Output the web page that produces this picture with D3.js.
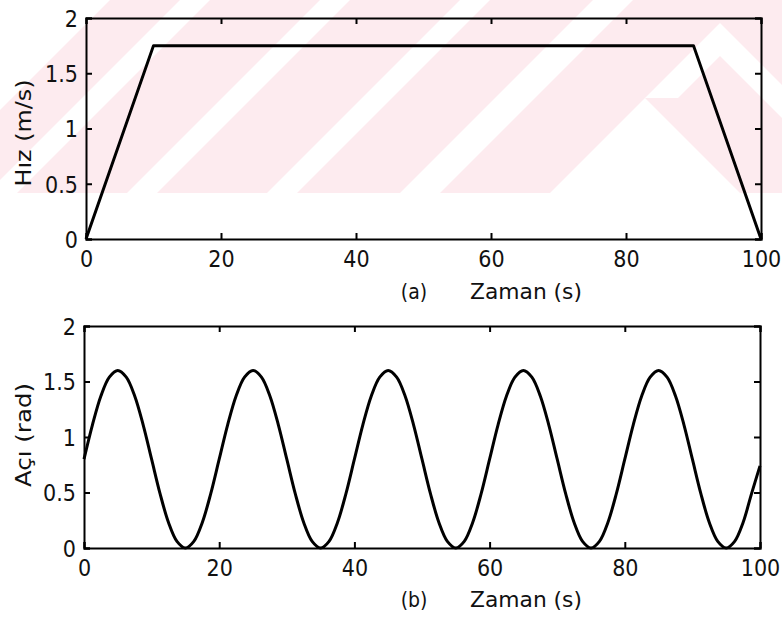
<!DOCTYPE html>
<html>
<head>
<meta charset="utf-8">
<script src="https://cdn.jsdelivr.net/npm/d3@7"></script>
<style>
  html, body { margin: 0; padding: 0; background: #fff; }
  svg { display: block; }
  text { font-family: "DejaVu Sans Condensed", "Liberation Sans Narrow", "DejaVu Sans", sans-serif; fill: #111; }
</style>
</head>
<body>
<svg id="chart" width="782" height="625"></svg>
<script>
// ---- data ----
const xTicks = [0, 20, 40, 60, 80, 100];
const yTicks = [0, 0.5, 1, 1.5, 2];

// (a) speed profile: accelerate, cruise, decelerate
const speedTime  = [0, 10, 90, 100];
const speedValue = [0, 1.75, 1.75, 0];

// (b) heading angle, sampled every 1.25 s from 0 to 100 s
const angleStep = 1.25;
const angleValue = [
  0.80, 1.11, 1.37, 1.54, 1.60, 1.54, 1.37, 1.11, 0.80, 0.49, 0.23, 0.06, 0.00, 0.06, 0.23, 0.49,
  0.80, 1.11, 1.37, 1.54, 1.60, 1.54, 1.37, 1.11, 0.80, 0.49, 0.23, 0.06, 0.00, 0.06, 0.23, 0.49,
  0.80, 1.11, 1.37, 1.54, 1.60, 1.54, 1.37, 1.11, 0.80, 0.49, 0.23, 0.06, 0.00, 0.06, 0.23, 0.49,
  0.80, 1.11, 1.37, 1.54, 1.60, 1.54, 1.37, 1.11, 0.80, 0.49, 0.23, 0.06, 0.00, 0.06, 0.23, 0.49,
  0.80, 1.11, 1.37, 1.54, 1.60, 1.54, 1.37, 1.11, 0.80, 0.49, 0.23, 0.06, 0.00, 0.06, 0.23, 0.49,
  0.74
];

const panels = [
  { tag: "(a)", yLabel: "Hız (m/s)", yLabelLen: 107, yLabelMid: 133,
    top: 18, bottom: 239, left: 86, right: 761, capY: 293,
    points: speedTime.map((t, i) => [t, speedValue[i]]), curve: d3.curveLinear },
  { tag: "(b)", yLabel: "Açı (rad)", yLabelLen: 104, yLabelMid: 435,
    top: 326, bottom: 548, left: 84, right: 760, capY: 601,
    points: angleValue.map((v, i) => [i * angleStep, v]), curve: d3.curveCatmullRom }
];

const svg = d3.select("#chart");

// ---- faint diagonal background pattern behind the upper panel ----
const bgH = 193;
const bg = svg.append("g");
bg.append("clipPath").attr("id", "bgclip")
  .append("rect").attr("x", 0).attr("y", 0).attr("width", 782).attr("height", bgH);
const bgG = bg.append("g").attr("clip-path", "url(#bgclip)");
bgG.append("rect").attr("x", 0).attr("y", 0).attr("width", 782).attr("height", bgH).attr("fill", "#fdebef");
// bands along x + y = c
const bands = [[-400, 110], [180, 210], [320, 350], [460, 490], [593, 633]];
bands.forEach(([c1, c2]) => {
  bgG.append("polygon")
    .attr("points", [[c1, 0], [c2, 0], [c2 - bgH, bgH], [c1 - bgH, bgH]].join(" "))
    .attr("fill", "#fff");
});
// chevron on the right
bgG.append("polygon")
  .attr("points", [[550, 193], [720, 23], [900, 203], [900, 236], [720, 56], [678, 98], [645, 98], [740, 193]].join(" "))
  .attr("fill", "#fff");

// ---- panels ----
panels.forEach(p => {
  const x = d3.scaleLinear().domain([0, 100]).range([p.left, p.right]);
  const y = d3.scaleLinear().domain([0, 2]).range([p.bottom, p.top]);
  const g = svg.append("g");

  // data line
  g.append("path")
    .datum(p.points)
    .attr("fill", "none")
    .attr("stroke", "#000")
    .attr("stroke-width", 3)
    .attr("stroke-linejoin", "round")
    .attr("d", d3.line().x(d => x(d[0])).y(d => y(d[1])).curve(p.curve));

  const tickLen = 6;
  const fmt = d => String(d);

  // axes: labelled bottom/left, mirrored ticks on top/right
  const axB = g.append("g").attr("transform", `translate(0,${p.bottom})`)
    .call(d3.axisBottom(x).tickValues(xTicks).tickSize(-tickLen).tickPadding(12).tickFormat(fmt));
  const axT = g.append("g").attr("transform", `translate(0,${p.top})`)
    .call(d3.axisTop(x).tickValues(xTicks).tickSize(-tickLen).tickFormat(""));
  const axL = g.append("g").attr("transform", `translate(${p.left},0)`)
    .call(d3.axisLeft(y).tickValues(yTicks).tickSize(-tickLen).tickPadding(8).tickFormat(fmt));
  const axR = g.append("g").attr("transform", `translate(${p.right},0)`)
    .call(d3.axisRight(y).tickValues(yTicks).tickSize(-tickLen).tickFormat(""));

  [axB, axT, axL, axR].forEach(a => {
    a.select(".domain").attr("stroke", "#000").attr("stroke-width", 2);
    a.selectAll(".tick line").attr("stroke", "#000").attr("stroke-width", 2);
    a.selectAll("text").attr("font-size", 23).attr("fill", "#111")
      .style("font-family", "\"DejaVu Sans Condensed\", \"Liberation Sans Narrow\", sans-serif");
  });
  axB.selectAll(".tick text").attr("dy", "0.71em");
  axL.selectAll(".tick text").attr("dy", "0.36em");

  // x-axis caption
  g.append("text").attr("x", 414).attr("y", p.capY).attr("text-anchor", "middle")
    .attr("dominant-baseline", "middle").attr("font-size", 21).text(p.tag);
  g.append("text").attr("x", 526).attr("y", p.capY).attr("text-anchor", "middle")
    .attr("dominant-baseline", "middle").attr("font-size", 21)
    .attr("textLength", 112).attr("lengthAdjust", "spacingAndGlyphs").text("Zaman (s)");

  // y-axis caption
  g.append("text")
    .attr("transform", `translate(25,${p.yLabelMid}) rotate(-90)`)
    .attr("text-anchor", "middle").attr("dominant-baseline", "middle")
    .attr("font-size", 21)
    .attr("textLength", p.yLabelLen).attr("lengthAdjust", "spacingAndGlyphs")
    .text(p.yLabel);
});
</script>
</body>
</html>
